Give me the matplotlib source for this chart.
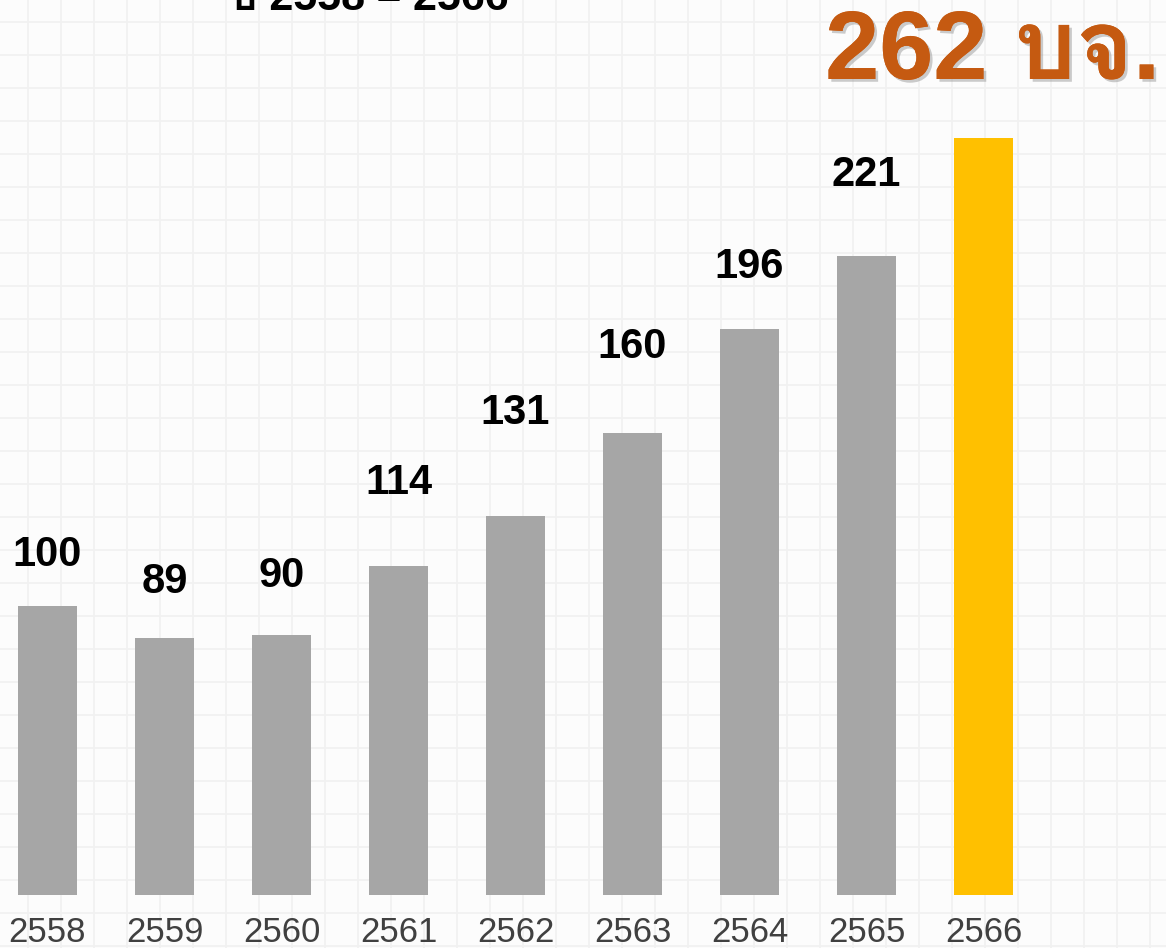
import matplotlib
matplotlib.use("Agg")
import matplotlib.pyplot as plt
import matplotlib.patheffects as pe
from matplotlib import font_manager
from matplotlib.ft2font import FT2Font

# data
years = ["2558", "2559", "2560", "2561", "2562", "2563", "2564", "2565", "2566"]
values = [100, 89, 90, 114, 131, 160, 196, 221, 262]
label_gap = [51, 56, 59, 83, 103, 86, 62, 81]  # px above bar for value labels
bar_colors = ["#A6A6A6"] * 8 + ["#FFC000"]


def find_thai_font():
    for f in font_manager.fontManager.ttflist:
        try:
            if 0x0E1A in FT2Font(f.fname).get_charmap():
                return f.name
        except Exception:
            pass
    return "DejaVu Sans"


thai = find_thai_font()

W, H = 1166, 948
fig = plt.figure(figsize=(W / 100, H / 100), dpi=100)
fig.patch.set_facecolor("#fcfcfc")

# faint graph-paper background
bg = fig.add_axes([0, 0, 1, 1], zorder=0)
bg.set_xlim(0, W)
bg.set_ylim(H, 0)
bg.axis("off")
for x in range(28, W, 33):
    bg.axvline(x, color="#f1f1f1", lw=1.2)
for y in range(22, H, 33):
    bg.axhline(y, color="#f1f1f1", lw=1.2)

px = 2.89  # pixels per unit
bottom_px = 53
ax = fig.add_axes([0, bottom_px / H, 1, (H - bottom_px) / H], zorder=1)
ax.patch.set_alpha(0)
ax.set_xlim(-47.5 / 117, (W - 47.5) / 117)
ax.set_ylim(0, (H - bottom_px) / px)
xs = range(len(years))
ax.bar(xs, values, width=0.505, color=bar_colors)
for s in ax.spines.values():
    s.set_visible(False)
ax.set_yticks([])
ax.set_xticks(list(xs))
ax.set_xticklabels(years, fontsize=25, color="#404040", family="Liberation Sans")
ax.tick_params(axis="x", length=0, pad=15)

for i, v in enumerate(values[:-1]):
    ax.annotate(str(v), (i, v), xytext=(0, label_gap[i] * 0.72),
                textcoords="offset points", ha="center", va="center",
                fontsize=30, fontweight="bold", family="Liberation Sans",
                color="black")

# highlighted final value
fig.text(0.995, 1 - 54 / H, f"{values[-1]} บจ.", ha="right", va="center",
         fontsize=70, fontweight="bold", color="#C55A11",
         family=["Liberation Sans", thai],
         path_effects=[pe.withSimplePatchShadow(offset=(2, -2), shadow_rgbFace="#999999", alpha=0.5),
                       pe.Normal()])

# cut-off title at the top
fig.text(230 / W, 1 - 10 / H, "ปี 2558 – 2566", ha="left", va="baseline",
         fontsize=31, fontweight="bold", color="black",
         family=["Liberation Sans", thai])

fig.savefig("out.png", dpi=100, facecolor=fig.get_facecolor())
